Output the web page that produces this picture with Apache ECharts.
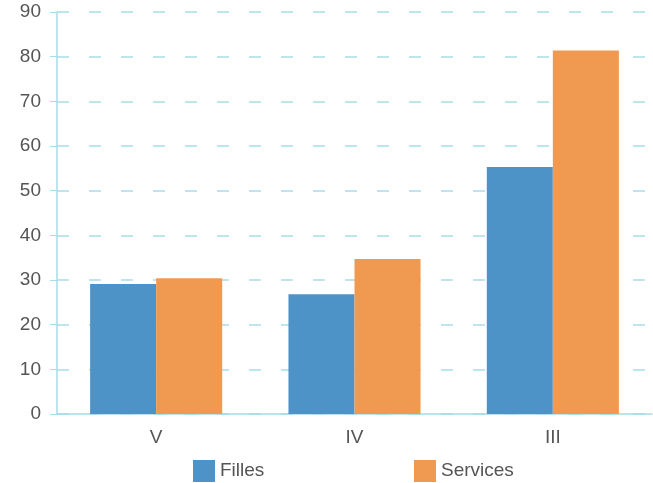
<!DOCTYPE html>
<html>
<head>
<meta charset="utf-8">
<script src="https://cdn.jsdelivr.net/npm/echarts@6/dist/echarts.min.js"></script>
<style>
    html, body { margin: 0; padding: 0; background: #fff; }
    #chart { width: 653px; height: 483px; }
</style>
</head>
<body>
<div id="chart"></div>
<script>
// chart values
const categories = ['V', 'IV', 'III']
const filles = [29.1, 26.8, 55.3]
const services = [30.4, 34.7, 81.4]

const font = '"Liberation Sans Narrow", "Liberation Sans", Arial, sans-serif'
const axisBlue = '#a9dce9'
const textColor = '#555'

const chart = echarts.init(document.getElementById('chart'))

// legend items sit far apart, so one legend per series
const legendStyle = {
    top: 455,
    padding: 5,
    itemWidth: 22,
    itemHeight: 22,
    itemGap: 8,
    icon: 'rect',
    textStyle: { fontFamily: font, fontSize: 19, color: textColor }
}

chart.setOption({
    animation: false,
    grid: { left: 57, right: 1, top: 12, bottom: 69 },
    legend: [
        { ...legendStyle, left: 188, data: ['Filles'] },
        { ...legendStyle, left: 409, data: ['Services'] }
    ],
    xAxis: {
        type: 'category',
        data: categories,
        axisLine: { lineStyle: { color: axisBlue, width: 1.5 } },
        axisTick: { length: 8, lineStyle: { color: axisBlue } },
        axisLabel: { margin: 14, fontFamily: font, fontSize: 19, color: textColor }
    },
    yAxis: {
        type: 'value',
        min: 0,
        max: 90,
        interval: 10,
        axisLine: { show: true, lineStyle: { color: axisBlue, width: 1.5 } },
        axisTick: { show: true, length: 7, lineStyle: { color: axisBlue } },
        axisLabel: { margin: 16, fontFamily: font, fontSize: 19, color: textColor },
        splitLine: { lineStyle: { color: axisBlue, width: 1.5, type: [12, 20] } }
    },
    series: [
        {
            name: 'Filles',
            type: 'bar',
            data: filles,
            barWidth: '33.3%',
            barGap: '0%',
            itemStyle: { color: '#4e93c8' }
        },
        {
            name: 'Services',
            type: 'bar',
            data: services,
            barWidth: '33.3%',
            itemStyle: { color: '#f09a51' }
        }
    ]
})
</script>
</body>
</html>
